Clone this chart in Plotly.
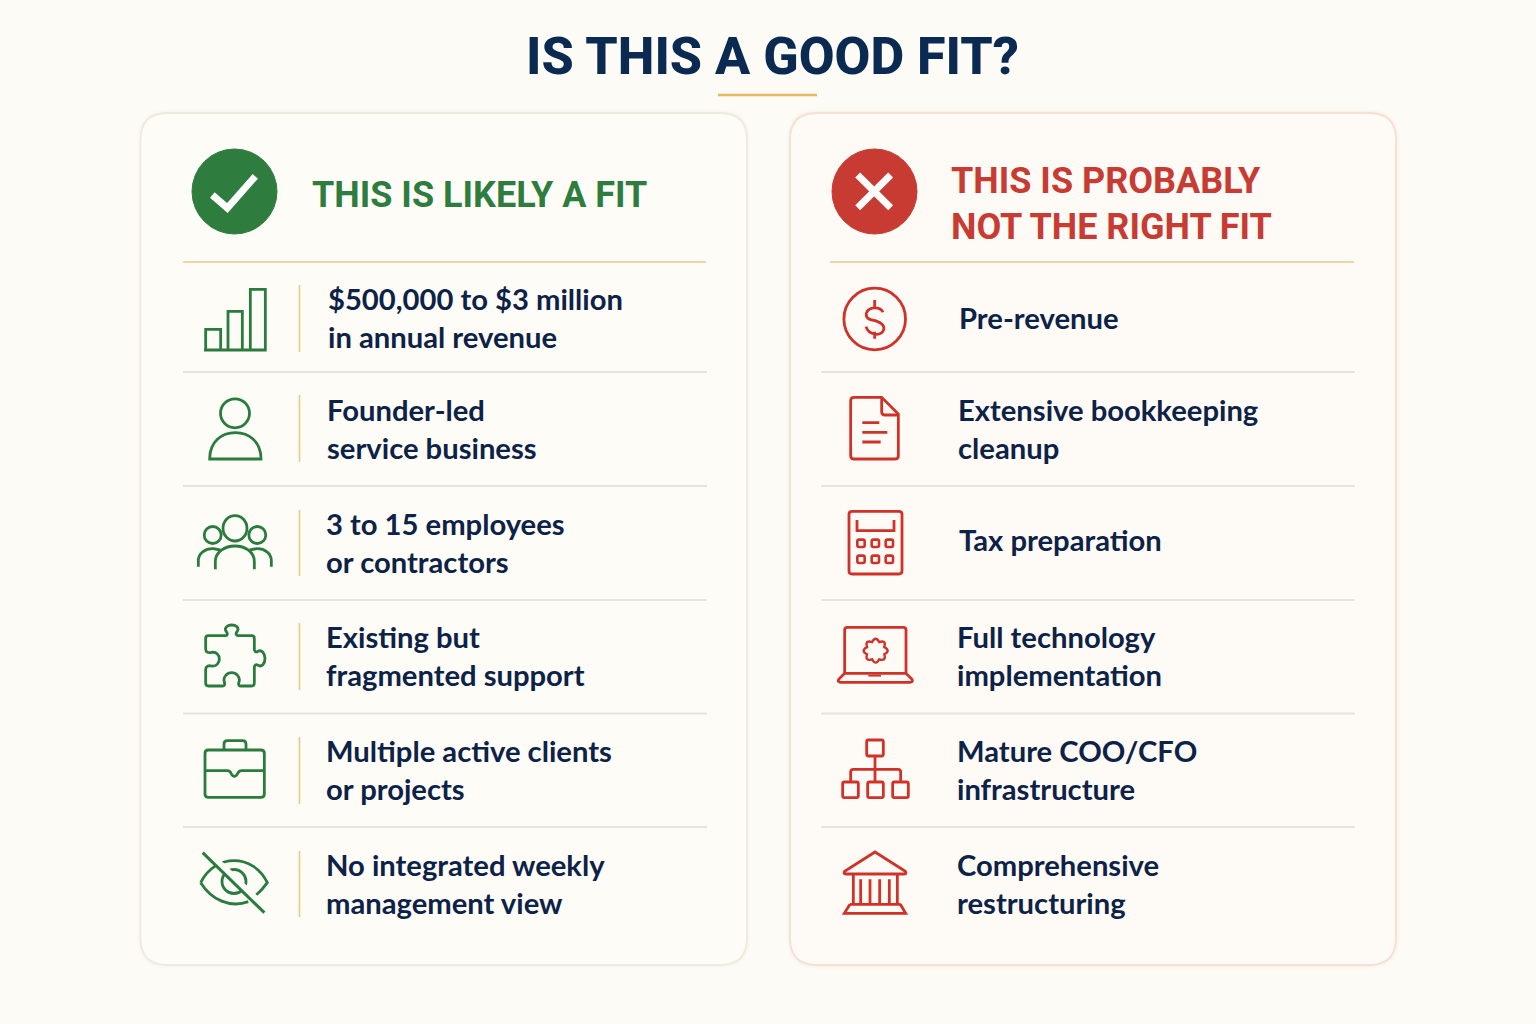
import math
import re
import plotly.graph_objects as go

title = "IS THIS A GOOD FIT?"
left_head = ["THIS IS LIKELY A FIT"]
right_head = ["THIS IS PROBABLY", "NOT THE RIGHT FIT"]

left_rows = [
    ["$500,000 to $3 million", "in annual revenue"],
    ["Founder-led", "service business"],
    ["3 to 15 employees", "or contractors"],
    ["Existing but", "fragmented support"],
    ["Multiple active clients", "or projects"],
    ["No integrated weekly", "management view"],
]
right_rows = [
    ["Pre-revenue"],
    ["Extensive bookkeeping", "cleanup"],
    ["Tax preparation"],
    ["Full technology", "implementation"],
    ["Mature COO/CFO", "infrastructure"],
    ["Comprehensive", "restructuring"],
]

left_x = [326, 325, 324, 324, 324, 324]
right_x = [957, 956, 957, 955, 955, 955]
left_mid = [317, 428, 542, 655, 769, 883]
right_mid = [317, 428, 539, 655, 769, 883]
row_lines = [372, 486, 600, 713.5, 827]
vbar = [(285, 352), (395, 462), (510, 576), (623, 690), (737, 804), (851, 917)]

BG = "#FDFBF6"
NAVY = "#0D2247"
TITLE_NAVY = "#0B2A52"
GREEN = "#2A7B3E"
GREEN_DK = "#2E7D3F"
RED = "#CF3229"
RED_DK = "#C83B32"
GOLD = "#EBC98B"
GREY = "#E6E4DC"
FONT = "Lato"
HEAD_FONT = "Roboto"
ICON_W = 2.8

shapes = []


def line_shape(d, color, width=ICON_W, fill=None):
    s = dict(type="path", path=d, line=dict(color=color, width=width), xref="x", yref="y")
    if fill:
        s["fillcolor"] = fill
    shapes.append(s)


# icon paths are traced at 3x, from a crop origin
def icon(d, ox, oy, color, width=ICON_W, fill=None):
    nums = iter(range(10 ** 6))

    def conv(m):
        i = next(nums)
        v = float(m.group(0)) / 3
        return "%.2f" % (v + (ox if i % 2 == 0 else oy))

    line_shape(re.sub(r"-?\d+\.?\d*", conv, d), color, width, fill)


def circle(cx, cy, rx, color, ry=None, width=ICON_W, fill=None):
    ry = rx if ry is None else ry
    s = dict(type="circle", x0=cx - rx, x1=cx + rx, y0=cy - ry, y1=cy + ry, line=dict(color=color, width=width))
    if fill:
        s["fillcolor"] = fill
    shapes.append(s)


def rrect(x0, y0, x1, y1, r):
    return (f"M {x0+r} {y0} L {x1-r} {y0} Q {x1} {y0} {x1} {y0+r} L {x1} {y1-r} Q {x1} {y1} {x1-r} {y1} "
            f"L {x0+r} {y1} Q {x0} {y1} {x0} {y1-r} L {x0} {y0+r} Q {x0} {y0} {x0+r} {y0} Z")


def card(x0, x1, edge, fill):
    d = rrect(x0, 113, x1, 965, 27)
    for w, op in [(7, 0.10), (4, 0.18)]:
        shapes.append(dict(type="path", path=d, line=dict(color=edge, width=w), opacity=op))
    line_shape(d, edge, 1.8, fill)


card(140.5, 747, "#EEEADC", "#FDFCF7")
card(790, 1396, "#F6DFD4", "#FEFBF6")

# title rule and header rules
line_shape("M 718 95 L 817 95", "#E9B862", 2.6)
line_shape("M 183 262 L 706 262", GOLD, 1.6)
line_shape("M 830 262 L 1354 262", GOLD, 1.6)
for y in row_lines:
    line_shape(f"M 183 {y} L 707 {y}", GREY, 1.8)
    line_shape(f"M 821 {y} L 1355 {y}", GREY, 1.8)
for y0, y1 in vbar:
    line_shape(f"M 299.5 {y0} L 299.5 {y1}", GOLD, 1.6)

# header badges
circle(234.5, 191.5, 42.5, GREEN_DK, fill=GREEN_DK, width=1)
circle(874.5, 191.5, 42.5, RED_DK, fill=RED_DK, width=1)
icon("M 217 255 L 262 294 L 346 199", 140, 110, "#FFFFFF", 7)
icon("M 203 293 L 302 195 M 203 195 L 302 293", 790, 110, "#FFFFFF", 7)

# green icons
gx, gy = 140, 110
icon("M 197 720 L 197 658 L 242 658 L 242 720 M 264 720 L 264 604 L 307 604 L 307 720 "
     "M 331 720 L 331 538 L 376 538 L 376 720 M 192 720 L 380 720", gx, gy, GREEN)
circle(235, 413.3, 14.5, GREEN)
icon("M 209 1047 C 209 995 245 968 286 968 C 327 968 363 995 363 1047 Z", gx, gy, GREEN)

gx, gy = 140, 490
circle(235, 528.3, 12, GREEN, ry=12.7)
circle(212.7, 535, 8.5, GREEN)
circle(257.3, 535, 8.5, GREEN)
icon("M 226 238 L 226 215 C 226 185 255 168 285 168 C 315 168 343 185 343 215 L 343 238", gx, gy, GREEN)
icon("M 175 230 L 175 212 C 175 190 195 175 220 176 L 241 180", gx, gy, GREEN)
icon("M 394 230 L 394 212 C 394 190 374 175 350 176 L 329 180", gx, gy, GREEN)
icon("M 205 437 L 257 437 C 262 437 264 432 259 425 C 250 412 265 405 275 405 C 287 405 300 412 291 425 "
     "C 286 432 288 437 295 437 L 335 437 Q 343 437 343 445 L 343 478 C 343 485 348 488 354 484 "
     "C 365 478 375 490 375 505 C 375 522 365 532 354 526 C 348 522 343 525 343 532 L 343 580 "
     "Q 343 588 335 588 L 302 588 C 295 588 295 582 297 576 C 302 560 288 548 275 548 C 262 548 248 560 253 576 "
     "C 255 582 255 588 248 588 L 205 588 Q 197 588 197 580 L 197 538 C 197 528 205 526 215 528 "
     "C 230 530 238 518 238 507 C 238 495 230 485 215 487 C 205 489 197 487 197 478 L 197 445 Q 197 437 205 437 Z",
     gx, gy, GREEN)
icon("M 205 780 L 363 780 Q 373 780 373 790 L 373 912 Q 373 922 363 922 L 205 922 Q 195 922 195 912 L 195 790 Q 195 780 205 780 Z",
     gx, gy, GREEN)
icon("M 252 780 L 252 762 Q 252 752 262 752 L 308 752 Q 318 752 318 762 L 318 780", gx, gy, GREEN)
icon("M 195 842 L 262 842 Q 270 842 273 850 Q 283 868 293 850 Q 297 842 305 842 L 373 842", gx, gy, GREEN)
icon("M 182 1178 C 225 1090 340 1090 382 1178 C 368 1198 358 1208 345 1218", gx, gy, GREEN)
icon("M 182 1178 C 215 1230 270 1255 325 1235", gx, gy, GREEN)
circle(234, 881.5, 12, GREEN)
icon("M 199 1083 L 384 1263", gx, gy, "#FDFCF7", 7)
icon("M 188 1088 L 373 1268", gx, gy, GREEN, 3)

# red icons
rx, ry = 790, 110
circle(874.7, 319, 30.8, RED)
icon("M 279 607 C 272 590 236 588 229 610 C 225 630 250 630 256 632 C 275 638 286 648 280 662 C 270 680 236 675 228 650 "
     "M 254 570 L 254 590 M 254 665 L 254 686", rx, ry, RED)
icon("M 192 862 L 275 862 L 325 912 L 325 1037 Q 325 1047 315 1047 L 192 1047 Q 182 1047 182 1037 L 182 872 Q 182 862 192 862 Z",
     rx, ry, RED)
icon("M 275 865 L 275 905 Q 275 915 285 915 L 325 915", rx, ry, RED)
icon("M 217 938 L 268 938 M 217 967 L 292 967 M 217 996 L 272 996", rx, ry, RED)

rx, ry = 790, 490
icon(rrect(177, 64, 336, 252, 9), rx, ry, RED)
icon("M 201 90 L 201 122 L 312 122 L 312 90", rx, ry, RED)
for cy in (160, 208):
    for cx in (213, 256, 298):
        icon(rrect(cx - 11, cy - 11, cx + 11, cy + 11, 5), rx, ry, RED, 2.6)

icon("M 164 550 L 164 420 Q 164 412 172 412 L 340 412 Q 348 412 348 420 L 348 550", rx, ry, RED)
icon("M 164 550 L 348 550 L 366 568 Q 370 577 360 577 L 152 577 Q 142 577 146 568 Z", rx, ry, RED)
icon("M 235 557 L 273 557", rx, ry, RED, 1.8)
# eight lobed gear on the laptop screen
pts = []
for k in range(8):
    a0 = math.radians(k * 45 - 90 - 22.5)
    a1 = math.radians(k * 45 - 90)
    a2 = math.radians(k * 45 - 90 + 22.5)
    pts.append((a0, a1, a2))
d = ""
for i, (a0, a1, a2) in enumerate(pts):
    x0, y0 = 257 + 28 * math.cos(a0), 482 + 28 * math.sin(a0)
    xm, ym = 257 + 46 * math.cos(a1), 482 + 46 * math.sin(a1)
    x2, y2 = 257 + 28 * math.cos(a2), 482 + 28 * math.sin(a2)
    d += ("M" if i == 0 else "L") + f" {x0:.1f} {y0:.1f} Q {xm:.1f} {ym:.1f} {x2:.1f} {y2:.1f} "
icon(d + "Z", rx, ry, RED, 2.4)

icon(rrect(230, 750, 280, 798, 5), rx, ry, RED)
icon("M 255 798 L 255 876 M 182 876 L 182 846 Q 182 838 190 838 L 324 838 Q 332 838 332 846 L 332 876", rx, ry, RED)
for bx in (158, 233, 308):
    icon(rrect(bx, 876, bx + 47, 923, 5), rx, ry, RED)

icon("M 255 1086 L 346 1144 Q 351 1152 343 1152 L 168 1152 Q 159 1152 164 1144 Z", rx, ry, RED)
icon("M 190 1152 L 190 1243 M 322 1152 L 322 1243 M 212 1168 L 212 1240 M 240 1168 L 240 1240 "
     "M 269 1168 L 269 1240 M 298 1168 L 298 1240 M 180 1243 L 332 1243", rx, ry, RED)
icon("M 180 1243 L 163 1270 L 347 1270 L 331 1243", rx, ry, RED)

annotations = []


def text(x, y, s, size, color, weight=700, anchor="left", family=FONT):
    annotations.append(dict(x=x, y=y, text=s, showarrow=False, xanchor=anchor, yanchor="middle",
                            font=dict(family=family, size=size, color=color, weight=weight), xref="x", yref="y"))


text(772, 56.5, title, 52, TITLE_NAVY, 800, "center", HEAD_FONT)
text(310, 194.5, left_head[0], 36, GREEN_DK, 700, family=HEAD_FONT)
for y, s in zip([180.5, 226.5], right_head):
    text(949, y, s, 36, RED_DK, 700, family=HEAD_FONT)

for x, mid, lines in zip(left_x, left_mid, left_rows):
    for j, s in enumerate(lines):
        text(x, mid + (j - 0.5) * 38, s, 29.2, NAVY)
for x, mid, lines in zip(right_x, right_mid, right_rows):
    n = len(lines)
    for j, s in enumerate(lines):
        text(x, mid + (j - (n - 1) / 2) * 38, s, 29.2, NAVY)

fig = go.Figure()
fig.update_layout(
    width=1536, height=1024, margin=dict(l=0, r=0, t=0, b=0),
    paper_bgcolor=BG, plot_bgcolor=BG, showlegend=False,
    xaxis=dict(range=[0, 1536], visible=False, fixedrange=True),
    yaxis=dict(range=[1024, 0], visible=False, fixedrange=True),
    shapes=shapes, annotations=annotations,
)
fig.write_html("out.html", config=dict(displayModeBar=False),
               post_script="document.body.style.margin='0';document.body.style.background='%s';" % BG)
